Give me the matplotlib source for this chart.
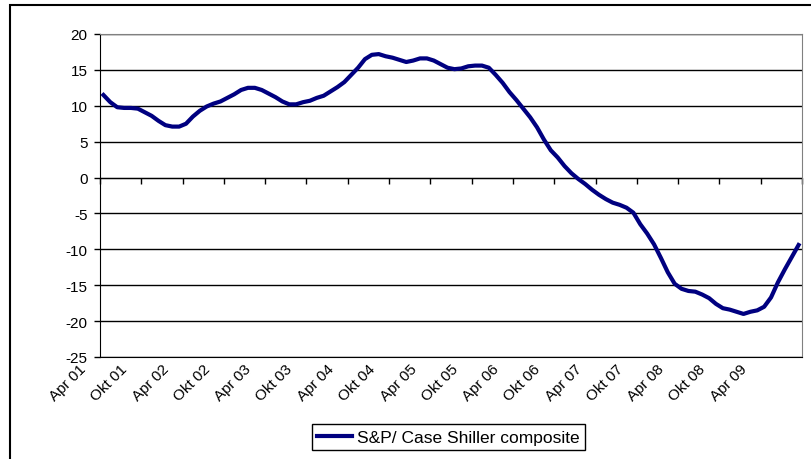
import matplotlib
matplotlib.use("Agg")
import matplotlib.pyplot as plt
from matplotlib.patches import Rectangle
from matplotlib.transforms import ScaledTranslation
import numpy as np

plt.rcParams['font.family'] = ['Liberation Sans', 'DejaVu Sans']
plt.rcParams['axes.unicode_minus'] = False

# monthly yoy change, Apr 2001 - Sep 2009
values = [11.5, 10.5, 9.8, 9.7, 9.7, 9.6, 9.1, 8.6, 7.9, 7.3,
          7.1, 7.1, 7.5, 8.5, 9.3, 9.9, 10.3, 10.6, 11.1, 11.6,
          12.2, 12.5, 12.5, 12.2, 11.7, 11.2, 10.6, 10.2, 10.2, 10.5,
          10.7, 11.1, 11.4, 12.0, 12.6, 13.3, 14.3, 15.3, 16.5, 17.1,
          17.2, 16.9, 16.7, 16.4, 16.1, 16.3, 16.6, 16.6, 16.3, 15.8,
          15.3, 15.1, 15.2, 15.5, 15.6, 15.6, 15.3, 14.3, 13.2, 11.9,
          10.8, 9.6, 8.4, 7.0, 5.3, 3.8, 2.8, 1.6, 0.6, -0.2,
          -0.9, -1.7, -2.4, -3.0, -3.5, -3.8, -4.2, -4.9, -6.5, -7.8,
          -9.3, -11.2, -13.2, -14.8, -15.5, -15.8, -15.9, -16.3, -16.8, -17.6,
          -18.2, -18.4, -18.7, -19.0, -18.7, -18.5, -18.0, -16.7, -14.6, -12.8,
          -11.1, -9.4]

tick_labels = ["Apr 01", "Okt 01", "Apr 02", "Okt 02", "Apr 03", "Okt 03",
               "Apr 04", "Okt 04", "Apr 05", "Okt 05", "Apr 06", "Okt 06",
               "Apr 07", "Okt 07", "Apr 08", "Okt 08", "Apr 09"]

series_name = "S&P/ Case Shiller composite"

months = np.arange(len(values))
# tick marks sit between categories, one every 6 months
tick_pos = np.arange(-0.5, len(values), 6)

ymin, ymax = -25, 20

fig = plt.figure(figsize=(8.11, 4.6), dpi=100)
ax = fig.add_axes([100 / 811, 102 / 460, 702 / 811, 323 / 460])

line, = ax.plot(months, values, color='#000080', lw=3, label=series_name)

ax.set_xlim(-0.5, len(values) - 0.5)
ax.set_ylim(ymin, ymax)
ax.set_yticks(range(ymin, ymax + 1, 5))
ax.yaxis.grid(True, color='black', lw=1)
ax.set_axisbelow(True)

ax.set_xticks(tick_pos)
ax.set_xticklabels(tick_labels + [''] * (len(tick_pos) - len(tick_labels)),
                   rotation=45, ha='right', va='center', rotation_mode='anchor')
ax.tick_params(axis='x', length=0, pad=7, labelsize=11)
ax.tick_params(axis='y', direction='out', length=4, width=1, pad=5, labelsize=11)

# excel puts the rotated labels a bit left of the tick
shift = ScaledTranslation(-16 / 100, 0, fig.dpi_scale_trans)
for lbl in ax.get_xticklabels():
    lbl.set_transform(lbl.get_transform() + shift)

ax.spines['left'].set_color('black')
ax.spines['bottom'].set_color('black')
ax.spines['top'].set_color('#808080')
ax.spines['right'].set_color('#808080')

# category axis crosses at zero, tick marks pointing down
secax = ax.secondary_xaxis(-ymin / (ymax - ymin))
secax.set_xticks(tick_pos)
secax.tick_params(axis='x', which='both', direction='out', length=4, width=1,
                  top=False, bottom=True, labeltop=False, labelbottom=False)
for s in secax.spines.values():
    s.set_color('black')

leg = fig.legend(handles=[line], loc='center', bbox_to_anchor=(448.5 / 811, 1 - 438 / 460),
                 fancybox=False, edgecolor='black', framealpha=1, fontsize=12.5,
                 handlelength=2.0, borderpad=0.3, handletextpad=0.3)
leg.get_frame().set_linewidth(1)

# chart area border
fig.add_artist(Rectangle((10 / 811, -0.2), 1.0, 1.2 - 6 / 460, transform=fig.transFigure,
                         fill=False, edgecolor='black', lw=1.5))

fig.savefig("out.png", dpi=100)
